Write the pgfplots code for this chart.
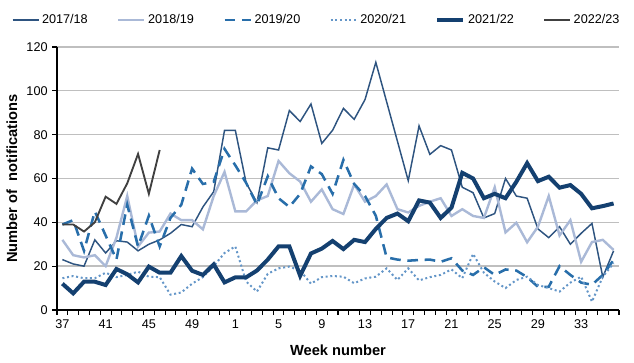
\documentclass[border=0pt]{standalone}
\usepackage{pgfplots}
\pgfplotsset{compat=1.18}
\usepackage{pgfplotstable}
\usepackage{fontspec}
\setmainfont{Liberation Sans}

\definecolor{cA}{RGB}{46,84,128}
\definecolor{cB}{RGB}{170,185,215}
\definecolor{cC}{RGB}{40,110,170}
\definecolor{cD}{RGB}{100,150,200}
\definecolor{cE}{RGB}{20,64,112}
\definecolor{cF}{RGB}{64,64,64}
\definecolor{gridc}{RGB}{191,191,191}

% i = position on axis, wk = week number
\pgfplotstableread{
i  wk  a     b     c     d     e     f
0  37  23    32    39    14.5  12    39
1  38  21    25    41    15.5  7.6   39
2  39  20    24    27    14.5  12.9  35.8
3  40  32    25    45    14.5  12.9  40
4  41  26    20    34    17    11.4  51.7
5  42  31.6  33    23    15    18.7  48.4
6  43  31    52    48    16    16.3  57.8
7  44  27    29    29    17.5  12.6  71.2
8  45  30    35.3  43    15.2  19.8  53
9  46  32    35.8  29    15    17    73
10 47  35    44    42    7     17    nan
11 48  39    41    48    8     24.6  nan
12 49  38    41    64.5  12    17.9  nan
13 50  47    36.8  57.5  15    16    nan
14 51  54    52    58.5  20    20.8  nan
15 52  82    63    73.5  26    12.6  nan
16 1   82    45    66    29    14.9  nan
17 2   58    45    58    13    14.9  nan
18 3   49    50    48    8.4   18    nan
19 4   74    52    61    16.5  23    nan
20 5   73    68    51    19    29    nan
21 6   91    62.4  47    19.8  29    nan
22 7   86    58.6  53    18    15.6  nan
23 8   94    49.4  65.5  12    25.8  nan
24 9   76    55    62    15    28    nan
25 10  82    46    53    15.5  31.5  nan
26 11  92    43.8  68.5  15.2  27.8  nan
27 12  87    57.3  57.5  12.2  32    nan
28 13  96    49.4  52    14.4  31    nan
29 14  113   52    43    15.2  37    nan
30 15  95    57.3  24    19    42    nan
31 16  77    46    23    13.7  44    nan
32 17  59    44.5  22.5  19    40.5  nan
33 18  84    47.5  22.8  13.5  50    nan
34 19  71    49.4  23    15    49    nan
35 20  75    51    22    16    42    nan
36 21  73    42.9  23.6  18.5  46.7  nan
37 22  56    46    18    14.5  62.6  nan
38 23  53.5  42.9  16    25.6  60    nan
39 24  42    42    19.5  17    51    nan
40 25  44    56    16    13    53    nan
41 26  60    35.4  18.5  10    51    nan
42 27  52    39.8  18    13.7  58.5  nan
43 28  51    30.9  15    15.2  67    nan
44 29  37    38    10.6  11.4  58.8  nan
45 30  33    52    10.6  10    60.8  nan
46 31  38    34    20    8.4   55.8  nan
47 32  30    41    16    12.5  57    nan
48 33  35    22    12.5  15.2  53    nan
49 34  39.5  31    11.5  3.8   46.4  nan
50 35  15    32    16    15.2  47.4  nan
51 36  27    27.4  22.8  21.3  48.6  nan
}\data

\begin{document}
\begin{tikzpicture}
\begin{axis}[
  at={(0,0)}, anchor=south west,
  scale only axis, width=421.5pt, height=197.25pt,
  xmin=-0.5, xmax=51.5, ymin=0, ymax=120,
  axis x line*=bottom, axis y line*=left,
  axis line style={black, line width=0.9pt, -},
  xtick={-0.5,0.5,...,51.5},
  x tick label as interval,
  xticklabels={37,,,,41,,,,45,,,,49,,,,1,,,,5,,,,9,,,,13,,,,17,,,,21,,,,25,,,,29,,,,33,,,,},
  ytick={0,20,...,120},
  tick align=outside,
  major tick length=3.5pt,
  tick style={black, line width=0.8pt},
  ymajorgrids,
  major grid style={gridc, line width=1pt},
  ticklabel style={font=\fontsize{9.5}{10}\selectfont},
  /pgf/number format/assume math mode=true,
  xlabel={Week number},
  ylabel={Number of\ \ notifications},
  xlabel style={font=\bfseries\fontsize{11}{12}\selectfont, at={(axis description cs:0.5,-0.152)}, anchor=center},
  ylabel style={font=\bfseries\fontsize{11}{12}\selectfont, at={(axis description cs:-0.0801,0.5)}, anchor=center},
  legend columns=6,
  legend style={draw=none, fill=none, at={(axis description cs:0.4627,1.1027)}, anchor=center,
    font=\fontsize{9.5}{10}\selectfont,
    /tikz/every even column/.append style={column sep=20pt},
    /tikz/every odd column/.append style={column sep=0pt}},
  legend image code/.code={\draw[#1] (0pt,0pt) -- (19.5pt,0pt);},
  clip=false,
]
\addplot[cA, line width=1.1pt] table[x=i, y=a] {\data};
\addlegendentry{2017/18}
\addplot[cB, line width=1.8pt] table[x=i, y=b] {\data};
\addlegendentry{2018/19}
\addplot[cC, line width=1.9pt, dash pattern=on 8pt off 5pt] table[x=i, y=c] {\data};
\addlegendentry{2019/20}
\addplot[cD, line width=1.5pt, dash pattern=on 1.5pt off 2pt] table[x=i, y=d] {\data};
\addlegendentry{2020/21}
\addplot[cE, line width=3pt] table[x=i, y=e] {\data};
\addlegendentry{2021/22}
\addplot[cF, line width=1.4pt] table[x=i, y=f] {\data};
\addlegendentry{2022/23}
\end{axis}
\pgfresetboundingbox
\path[use as bounding box] (-42.75pt,-39.75pt) rectangle (432.75pt,232.5pt);
\end{tikzpicture}
\end{document}
